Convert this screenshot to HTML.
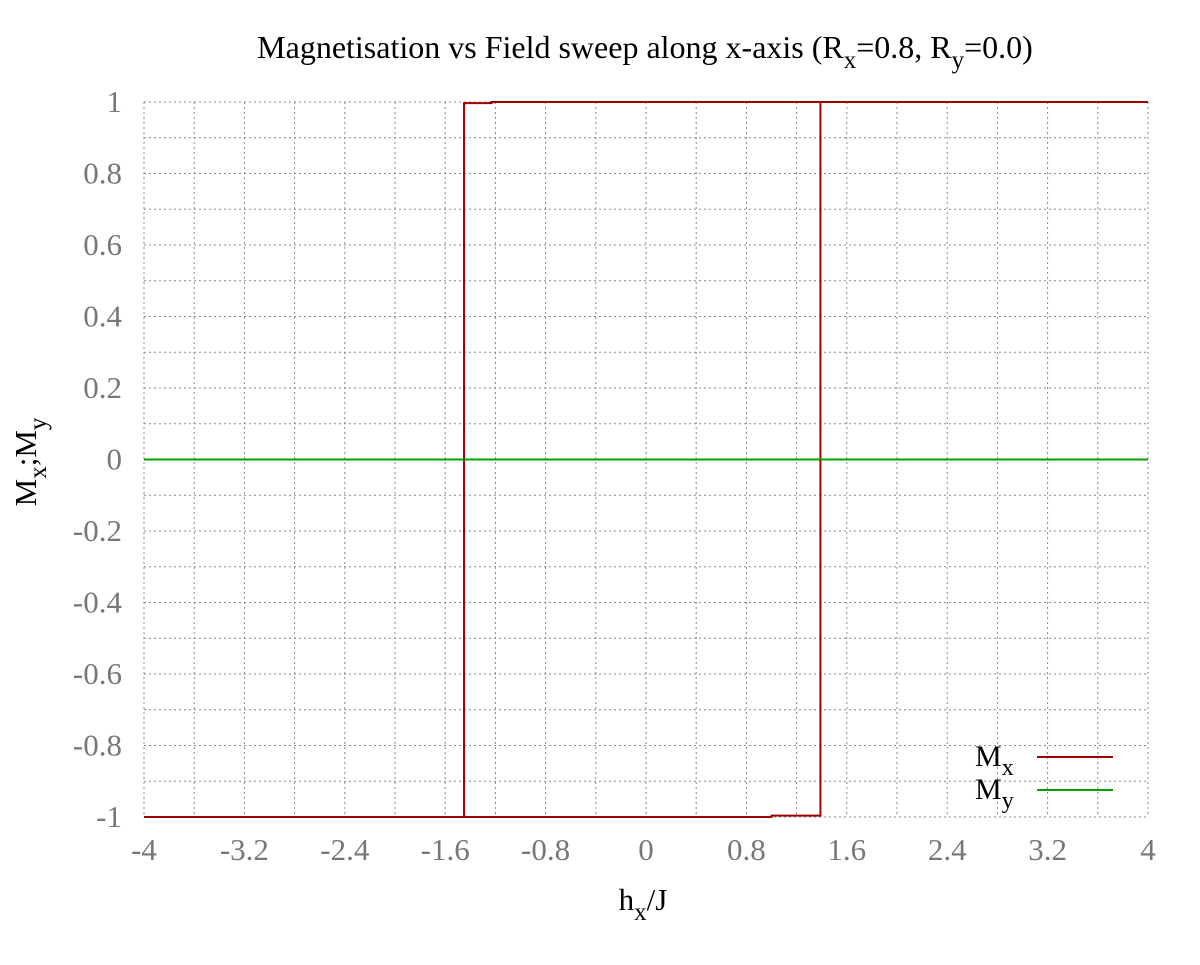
<!DOCTYPE html>
<html><head><meta charset="utf-8"><style>
body{margin:0;background:#fff}
text{font-family:"Liberation Serif",serif}
</style></head><body>
<svg id="c" width="1200" height="960" xmlns="http://www.w3.org/2000/svg">
<text x="645" y="58" font-size="32" text-anchor="middle">Magnetisation vs Field sweep along x-axis (R<tspan font-size="25" dy="10">x</tspan><tspan dy="-10">=0.8, R</tspan><tspan font-size="25" dy="10">y</tspan><tspan dy="-10">=0.0)</tspan></text>
<g id="grid"></g><g id="ticks"></g><g id="series"></g>
<text x="643" y="910" font-size="31" text-anchor="middle">h<tspan font-size="25" dy="10">x</tspan><tspan dy="-10">/J</tspan></text>
<text transform="translate(36,462) rotate(-90)" font-size="31" text-anchor="middle">M<tspan font-size="25" dy="10">x</tspan><tspan dy="-10">;M</tspan><tspan font-size="25" dy="10">y</tspan></text>
<g>
<text x="975" y="766" font-size="30">M<tspan font-size="24" dy="9">x</tspan></text>
<line x1="1037" y1="757" x2="1113" y2="757" stroke="#a00000" stroke-width="2"/>
<text x="975" y="799" font-size="30">M<tspan font-size="24" dy="9">y</tspan></text>
<line x1="1037" y1="790" x2="1113" y2="790" stroke="#00a000" stroke-width="2"/>
</g>
</svg>
<script>
const xTicks=[-4,-3.2,-2.4,-1.6,-0.8,0,0.8,1.6,2.4,3.2,4];
const yTicks=[1,0.8,0.6,0.4,0.2,0,-0.2,-0.4,-0.6,-0.8,-1];
const mxH=[-4,1.0,1.0,1.39,1.39,4,4,-1.23,-1.23,-1.45,-1.45,-4];
const mxM=[-1,-1,-0.996,-0.996,1,1,1,1,0.997,0.997,-1,-1];
const myH=[-4,4];
const myM=[0,0];
const X0=144,X1=1148,Y0=817,Y1=102;
const sx=v=>X0+(v+4)/8*(X1-X0);
const sy=v=>Y0-(v+1)/2*(Y0-Y1);
const NS='http://www.w3.org/2000/svg';
function mk(t,a,p){const e=document.createElementNS(NS,t);for(const k in a)e.setAttribute(k,a[k]);p.appendChild(e);return e;}
const grid=document.getElementById('grid'),ticks=document.getElementById('ticks'),ser=document.getElementById('series');
for(let i=0;i<=20;i++){const v=-4+i*0.4;
 const l=mk('line',{x1:sx(v),x2:sx(v),y1:Y1,y2:Y0,stroke:'#888','stroke-width':1,'stroke-dasharray':'2,3'},grid);
 
 }
for(let i=0;i<=20;i++){const v=-1+i*0.1;
 const l=mk('line',{x1:X0,x2:X1,y1:sy(v),y2:sy(v),stroke:'#888','stroke-width':1,'stroke-dasharray':'2,3'},grid);
 
 }
xTicks.forEach(v=>{const t=mk('text',{x:sx(v),y:860,'font-size':31,fill:'#777','text-anchor':'middle'},ticks);t.textContent=String(v);
 
 });
yTicks.forEach(v=>{const t=mk('text',{x:122,y:sy(v)+10,'font-size':31,fill:'#777','text-anchor':'end'},ticks);t.textContent=String(v);
 
 });
const p1=mk('polyline',{points:mxH.map((h,i)=>sx(h)+','+sy(mxM[i])).join(' '),fill:'none',stroke:'#a00000','stroke-width':2},ser);


const p2=mk('polyline',{points:myH.map((h,i)=>sx(h)+','+sy(myM[i])).join(' '),fill:'none',stroke:'#00a000','stroke-width':2},ser);


</script>
</body></html>
